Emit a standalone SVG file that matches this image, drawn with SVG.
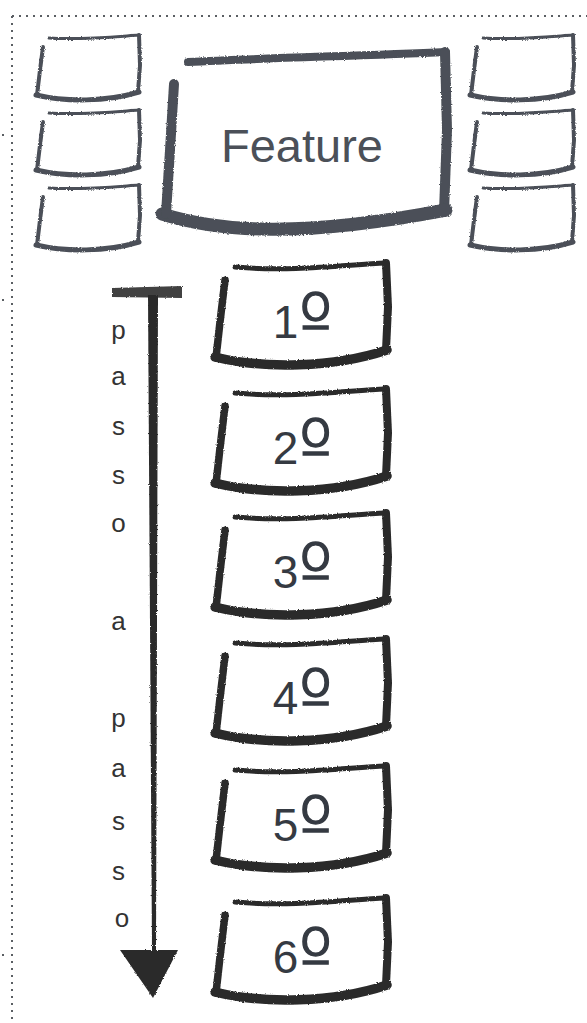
<svg xmlns="http://www.w3.org/2000/svg" width="587" height="1023" viewBox="0 0 587 1023">
<style>
.frame{fill:none;stroke:#5a5e63;stroke-width:2;stroke-dasharray:2 5}
.tick{fill:#5a5e63}
.sb{color:#4b5058}
.st{color:#2b2b2b}
.fb path{fill:none;stroke:#4b5058;stroke-linecap:round;stroke-linejoin:round}
.title{font-family:"Liberation Sans",Arial,sans-serif;font-size:47px;fill:#4b5058;text-anchor:middle}
.lbl{font-family:"Liberation Sans",Arial,sans-serif;font-size:46px;fill:#353a42;text-anchor:middle}
.ord{font-family:"DejaVu Sans",sans-serif;font-size:74px;font-weight:200;stroke:#353a42;stroke-width:1.4}
.vert{font-family:"Liberation Sans",Arial,sans-serif;font-size:26px;fill:#333;text-anchor:middle}
.arrow{fill:#2b2b2b}
</style>
<defs>
<filter id="rough" x="-5%" y="-5%" width="110%" height="110%">
<feTurbulence type="fractalNoise" baseFrequency="0.9" numOctaves="2" seed="3" result="n"/>
<feDisplacementMap in="SourceGraphic" in2="n" scale="2.5" xChannelSelector="R" yChannelSelector="G"/>
</filter>
<g id="smallbox" filter="url(#rough)" fill="none" stroke="currentColor" stroke-linecap="round" stroke-linejoin="round">
<path d="M13 3 C45 5 75 2 103 0" stroke-width="3"/>
<path d="M103 0 L104 30 L102 57" stroke-width="4"/>
<path d="M0 60 C30 67 70 67 103 57" stroke-width="5"/>
<path d="M7 12 L4 35 L1 60" stroke-width="4"/>
</g>
<g id="stepbox" filter="url(#rough)" fill="none" stroke="currentColor" stroke-linecap="round" stroke-linejoin="round">
<path d="M22 5 C80 10 130 3 173 1" stroke-width="5"/>
<path d="M173 1 L175 45 L173 88" stroke-width="8"/>
<path d="M2 95 C50 107 120 106 174 88" stroke-width="9.5"/>
<path d="M12 18 L7 60 L3 96" stroke-width="7.5"/>
</g>
</defs>

<g id="frame">
<path class="frame" d="M12 16 H587 M12 16 V1023"/>
<rect class="tick" x="2" y="134" width="2" height="2"/>
<rect class="tick" x="2" y="299" width="2" height="2"/>
<rect class="tick" x="2" y="954" width="2" height="2"/>
</g>

<g id="left-box-1" class="sb"><use href="#smallbox" x="36" y="35"/></g>
<g id="left-box-2" class="sb"><use href="#smallbox" x="36" y="110"/></g>
<g id="left-box-3" class="sb"><use href="#smallbox" x="36" y="185"/></g>
<g id="right-box-1" class="sb"><use href="#smallbox" x="470" y="35"/></g>
<g id="right-box-2" class="sb"><use href="#smallbox" x="470" y="110"/></g>
<g id="right-box-3" class="sb"><use href="#smallbox" x="470" y="185"/></g>

<g id="feature" class="fb">
<g filter="url(#rough)">
<path d="M188 62 C260 58 360 56 446 52" stroke-width="8"/>
<path d="M445 52 L447 130 L444 212" stroke-width="10"/>
<path d="M162 214 C220 232 300 238 446 210" stroke-width="13"/>
<path d="M174 84 L170 150 L166 214" stroke-width="10"/>
</g>
<text class="title" x="302" y="162">Feature</text>
</g>

<g id="connectors">
<g id="step-arrow" class="arrow" filter="url(#rough)">
<path d="M112 288 L182 286 L182 298 L112 297 Z" opacity="0.9"/>
<path d="M148 295 L158 295 L156 950 L152 950 Z"/>
<path d="M120 950 L178 950 L153 998 Z"/>
</g>
</g>

<g id="passo-a-passo">
<text class="vert">
<tspan x="122" y="339">p</tspan>
<tspan x="122" y="385">a</tspan>
<tspan x="122" y="435">s</tspan>
<tspan x="122" y="484">s</tspan>
<tspan x="122" y="532">o</tspan>
<tspan x="122" y="630">a</tspan>
<tspan x="122" y="727">p</tspan>
<tspan x="122" y="777">a</tspan>
<tspan x="122" y="830">s</tspan>
<tspan x="122" y="880">s</tspan>
<tspan x="122" y="927">o</tspan>
</text>
</g>

<g id="step-1" class="st"><use href="#stepbox" x="213" y="262"/><text class="lbl" x="303" y="338">1<tspan class="ord" dy="9">º</tspan></text></g>
<g id="step-2" class="st"><use href="#stepbox" x="213" y="388"/><text class="lbl" x="303" y="464">2<tspan class="ord" dy="9">º</tspan></text></g>
<g id="step-3" class="st"><use href="#stepbox" x="213" y="512"/><text class="lbl" x="303" y="588">3<tspan class="ord" dy="9">º</tspan></text></g>
<g id="step-4" class="st"><use href="#stepbox" x="213" y="638"/><text class="lbl" x="303" y="714">4<tspan class="ord" dy="9">º</tspan></text></g>
<g id="step-5" class="st"><use href="#stepbox" x="213" y="765"/><text class="lbl" x="303" y="841">5<tspan class="ord" dy="9">º</tspan></text></g>
<g id="step-6" class="st"><use href="#stepbox" x="213" y="897"/><text class="lbl" x="303" y="973">6<tspan class="ord" dy="9">º</tspan></text></g>
</svg>
